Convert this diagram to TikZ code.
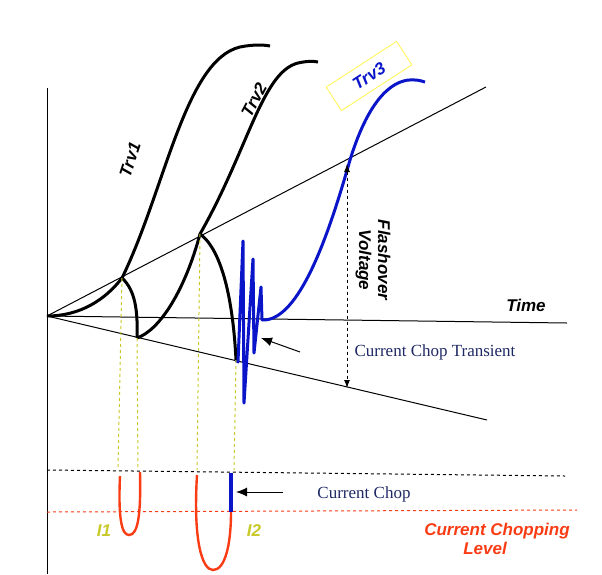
\documentclass[tikz,border=0pt]{standalone}
\usepackage{fontspec}
\setmainfont{Liberation Serif}
\setsansfont{Liberation Sans}
\usetikzlibrary{arrows.meta}
\definecolor{trvblue}{RGB}{10,20,200}
\definecolor{lab}{RGB}{200,200,40}
\definecolor{navy}{RGB}{30,40,100}
\definecolor{redc}{RGB}{250,60,20}
\begin{document}
\begin{tikzpicture}[x=1pt,y=-1pt,
  ax/.style={line width=1pt},
  trv/.style={line width=3pt},
  lbl/.style={font=\sffamily\bfseries\itshape\fontsize{17}{19}\selectfont},
  ser/.style={font=\fontsize{17}{17}\selectfont,text=navy},
  ydash/.style={lab,dashed,line width=1pt},
  redu/.style={redc,line width=2.4pt}]
\useasboundingbox (0,0) rectangle (602,574);
\coordinate (O) at (47,316);
\coordinate (p1) at (122,278);
\coordinate (q1) at (137,338);
\coordinate (p2) at (200,234);
\coordinate (q2) at (236,360);
\draw[ax] (47,88) -- (47,574);
\draw[ax] (O) -- (567,323);
\draw[ax] (O) -- (486,87);
\draw[ax] (O) -- (487,420);
% Trv1
\draw[trv] (O) .. controls (80,316) and (105,300) .. (p1) .. controls (165,190) and (185,60) .. (240,47) .. controls (255,44) and (265,45) .. (270,46);
\draw[trv] (p1) .. controls (135,290) and (138,310) .. (q1);
% Trv2
\draw[trv] (q1) .. controls (160,330) and (185,290) .. (p2) .. controls (248,150) and (262,72) .. (298,63) .. controls (307,61) and (313,61) .. (318,62);
\draw[trv] (p2) .. controls (222,250) and (233,300) .. (q2);
% Trv3
\draw[trvblue,trv,line join=round] (q2) -- (238,362) -- (243,241) -- (244,403) -- (253,259) -- (254,353) -- (261,287) -- (262,320)
  .. controls (300,322) and (330,230) .. (350,160) .. controls (370,95) and (395,78) .. (415,80) .. controls (420,80) and (424,82) .. (425,82);
\node[lbl,text=trvblue,draw=yellow!70!white,line width=0.8pt,rotate=33,minimum width=84pt,minimum height=28pt] (t3) at (369,76) {Trv3};
\node[lbl,rotate=72] (t1) at (130,160) {Trv1};
\node[lbl,rotate=62] (t2) at (254,100) {Trv2};
% flashover
\coordinate (fa) at (347,164);
\coordinate (fb) at (347,388);
\draw[dashed,line width=1pt,{Latex[length=8pt,width=6pt]}-{Latex[length=8pt,width=6pt]}] (fa) -- (fb);
\node[lbl,rotate=-90,align=center] (fv) at (373,260) {Flashover\\Voltage};
\node[lbl] (time) at (526,305) {Time};
\coordinate (a1) at (300,352);
\coordinate (a2) at (261,338);
\draw[line width=1pt,-{Latex[length=11pt,width=9pt]}] (a1) -- (a2);
\node[ser] (cct) at (435,352) {Current Chop Transient};
% dashed verticals
\draw[ydash] (p1) -- (118,470);
\draw[ydash] (q1) -- (138,470);
\draw[ydash] (p2) -- (197,470);
\draw[ydash] (q2) -- (234,470);
\draw[dashed,line width=1pt] (47,470) -- (565,476);
\draw[redc,dashed,line width=1pt] (47,512) -- (577,510);
% U curves
\draw[redu] (120,476) .. controls (118,520) and (122,535) .. (129,535) .. controls (138,535) and (141,515) .. (140,472);
\draw[redu] (197,475) .. controls (193,540) and (202,570) .. (213,570) .. controls (225,570) and (231,545) .. (231,512);
\draw[trvblue,line width=4pt] (231,473) -- (231,512);
\coordinate (b1) at (283,492);
\coordinate (b2) at (236,492);
\draw[line width=1pt,-{Latex[length=11pt,width=9pt]}] (b1) -- (b2);
\node[ser] (cc) at (364,494) {Current Chop};
\node[lbl,text=lab] (i1) at (104,531) {I1};
\node[lbl,text=lab] (i2) at (254,531) {I2};
\node[lbl,text=redc,align=center] (ccl) at (497,539) {Current Chopping\\\hspace*{-24pt}Level};
\end{tikzpicture}
\end{document}
